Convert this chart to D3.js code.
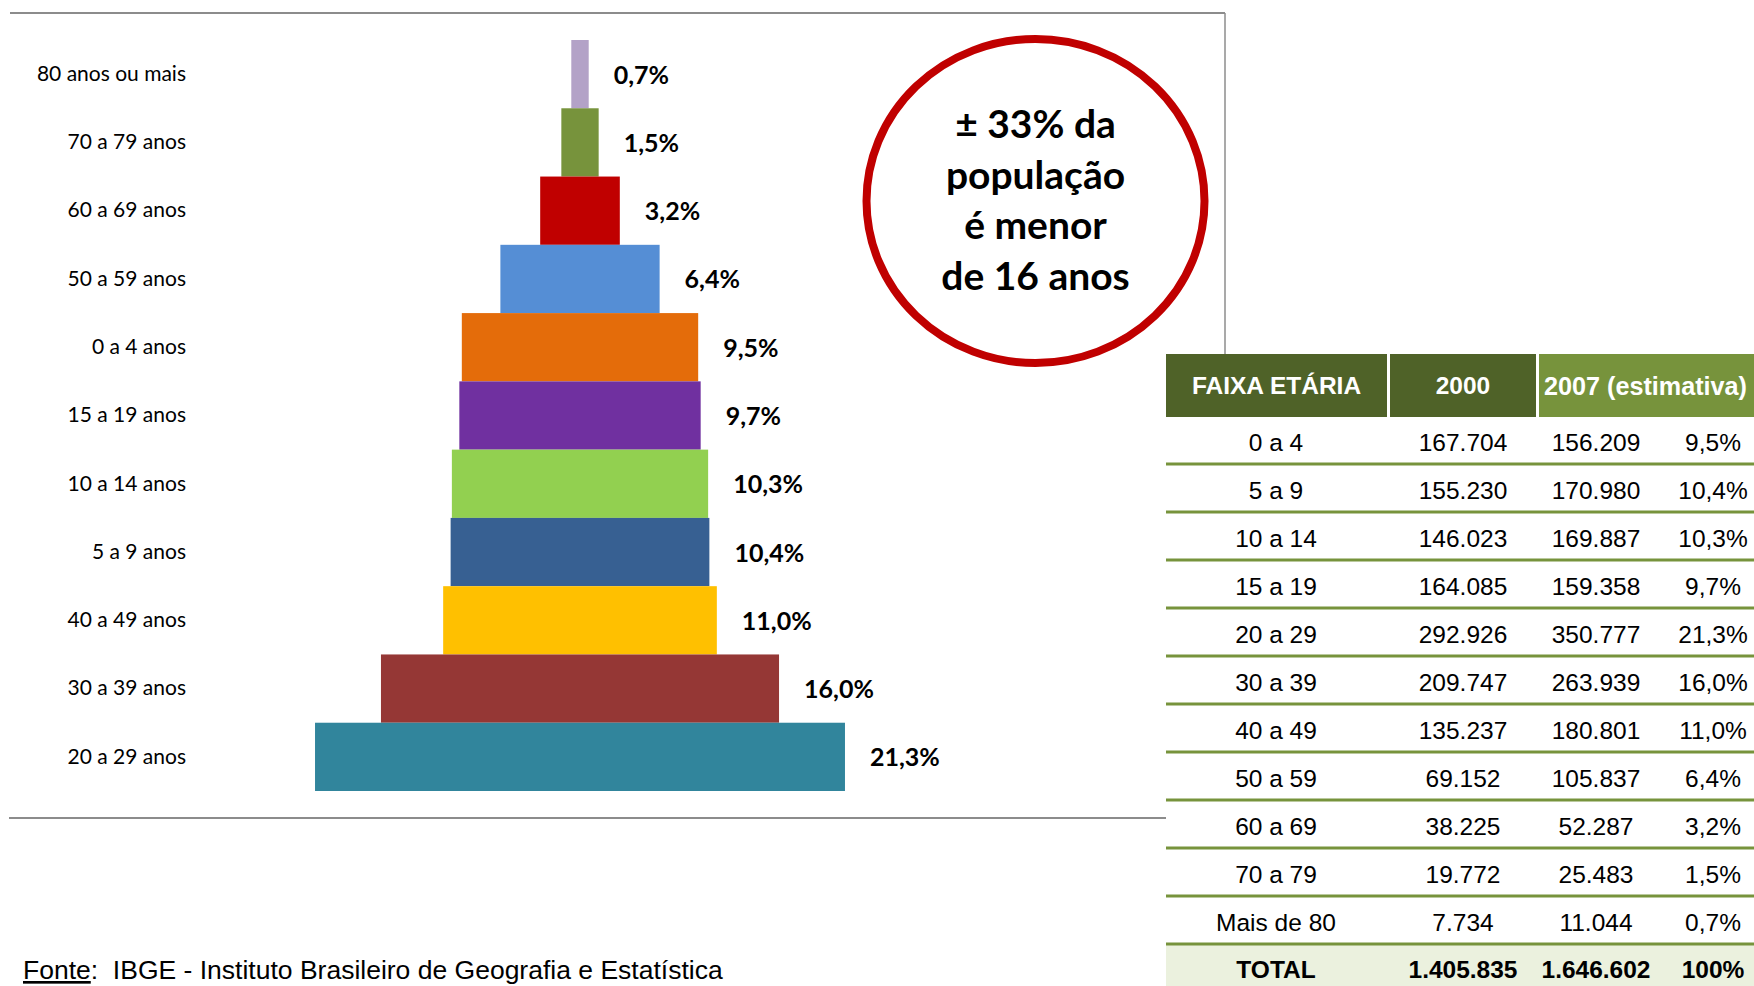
<!DOCTYPE html>
<html>
<head>
<meta charset="utf-8">
<script src="https://cdn.jsdelivr.net/npm/d3@7"></script>
<style>
  html, body { margin: 0; padding: 0; background: #ffffff; }
  svg { display: block; }
</style>
</head>
<body>
<svg id="chart" width="1754" height="986"></svg>
<script>
// ---------- DATA ----------
const pyramidCategories = ["80 anos ou mais", "70 a 79 anos", "60 a 69 anos", "50 a 59 anos", "0 a 4 anos",
  "15 a 19 anos", "10 a 14 anos", "5 a 9 anos", "40 a 49 anos", "30 a 39 anos", "20 a 29 anos"];
const pyramidValues = [0.7, 1.5, 3.2, 6.4, 9.5, 9.7, 10.3, 10.4, 11.0, 16.0, 21.3];
const pyramidColors = ["#b3a2c7", "#77933c", "#c00000", "#558ed5", "#e46c0a",
  "#7030a0", "#92d050", "#376092", "#ffc000", "#953735", "#31859c"];

const calloutLines = ["± 33% da", "população", "é menor", "de 16 anos"];

const tableHeaders = ["FAIXA ETÁRIA", "2000", "2007 (estimativa)"];
const tableAges = ["0 a 4", "5 a 9", "10 a 14", "15 a 19", "20 a 29", "30 a 39", "40 a 49",
  "50 a 59", "60 a 69", "70 a 79", "Mais de 80"];
const pop2000 = ["167.704", "155.230", "146.023", "164.085", "292.926", "209.747", "135.237",
  "69.152", "38.225", "19.772", "7.734"];
const pop2007 = ["156.209", "170.980", "169.887", "159.358", "350.777", "263.939", "180.801",
  "105.837", "52.287", "25.483", "11.044"];
const pct2007 = ["9,5%", "10,4%", "10,3%", "9,7%", "21,3%", "16,0%", "11,0%", "6,4%", "3,2%", "1,5%", "0,7%"];
const totalRow = ["TOTAL", "1.405.835", "1.646.602", "100%"];

const sourceLabel = "Fonte";
const sourceText = ":  IBGE - Instituto Brasileiro de Geografia e Estatística";

// ---------- DRAW ----------
const svg = d3.select("#chart");
const calibri = "Lato, 'Open Sans', sans-serif";
const arial = "'Liberation Sans', Arial, sans-serif";

// frame lines
const frame = svg.append("g").attr("stroke", "#8c8c8c").attr("stroke-width", 2);
frame.append("line").attr("x1", 10).attr("x2", 1225).attr("y1", 13).attr("y2", 13);
frame.append("line").attr("x1", 1225).attr("x2", 1225).attr("y1", 13).attr("y2", 354).attr("stroke-width", 1.5);
frame.append("line").attr("x1", 9).attr("x2", 1166).attr("y1", 818).attr("y2", 818);

// pyramid scales
const y = d3.scaleBand().domain(pyramidCategories).range([40, 791]).padding(0);
const x = d3.scaleLinear().domain([-12.5, 12.5]).range([580 - 311, 580 + 311]);

const rows = pyramidCategories.map((c, i) => ({ c, v: pyramidValues[i], col: pyramidColors[i] }));

svg.append("g").selectAll("rect").data(rows).join("rect")
  .attr("x", d => x(-d.v / 2))
  .attr("width", d => x(d.v / 2) - x(-d.v / 2))
  .attr("y", d => y(d.c))
  .attr("height", y.bandwidth())
  .attr("fill", d => d.col);

// category axis labels
const yAxis = d3.axisLeft(y).tickSize(0).tickPadding(0);
const yg = svg.append("g").attr("transform", "translate(186,0)").call(yAxis);
yg.select(".domain").remove();
yg.selectAll("text")
  .attr("font-family", calibri).attr("font-size", 21).attr("fill", "#000");

// value labels
svg.append("g").selectAll("text").data(rows).join("text")
  .attr("x", d => x(d.v / 2) + 25)
  .attr("y", d => y(d.c) + y.bandwidth() / 2)
  .attr("dy", "0.38em")
  .attr("font-family", calibri).attr("font-weight", 700).attr("font-size", 25)
  .attr("fill", "#000")
  .text(d => d.v.toFixed(1).replace(".", ",") + "%");

// callout ellipse
const cx = 1035.5, cy = 201;
svg.append("ellipse").attr("cx", cx).attr("cy", cy).attr("rx", 169).attr("ry", 162)
  .attr("fill", "#fff").attr("stroke", "#c00000").attr("stroke-width", 8);
svg.append("g").selectAll("text").data(calloutLines).join("text")
  .attr("x", cx).attr("y", (d, i) => 138 + i * 50.5)
  .attr("text-anchor", "middle")
  .attr("font-family", calibri).attr("font-weight", 700).attr("font-size", 39)
  .attr("fill", "#000")
  .text(d => d);

// table
const colX = { c1: [1166, 1387], c2: [1390, 1536], c3: [1539, 1754] };
const headerTop = 354, headerBottom = 417;
const hdr = svg.append("g");
const hdrCells = [[colX.c1, "#4f6228"], [colX.c2, "#4f6228"], [colX.c3, "#77933c"]];
hdrCells.forEach(([r, fill], i) => {
  hdr.append("rect").attr("x", r[0]).attr("y", headerTop).attr("width", r[1] - r[0])
    .attr("height", headerBottom - headerTop).attr("fill", fill);
  hdr.append("text").attr("x", (r[0] + r[1]) / 2 - (i === 2 ? 1 : 0)).attr("y", (headerTop + headerBottom) / 2)
    .attr("dy", "0.36em").attr("text-anchor", "middle")
    .attr("font-family", arial).attr("font-weight", 700).attr("font-size", i === 2 ? 25.2 : 24.5)
    .attr("fill", "#fff").text(tableHeaders[i]);
});

const rowStart = 417, rowH = 48;
const textCenters = [1276, 1463, 1596, 1713];
const rowY = d3.scaleBand().domain(d3.range(tableAges.length + 1))
  .range([rowStart - 1, rowStart - 1 + rowH * (tableAges.length + 1)]).padding(0);

// total row background
svg.append("rect").attr("x", 1166).attr("y", rowY(tableAges.length))
  .attr("width", 1754 - 1166).attr("height", rowH).attr("fill", "#ebf1de");

const tbody = svg.append("g");
tableAges.forEach((age, i) => {
  const vals = [age, pop2000[i], pop2007[i], pct2007[i]];
  const yc = rowY(i) + rowH / 2 + 2;
  vals.forEach((v, j) => {
    tbody.append("text").attr("x", textCenters[j]).attr("y", yc).attr("dy", "0.36em")
      .attr("text-anchor", "middle").attr("font-family", arial).attr("font-size", 24.5)
      .attr("fill", "#000").text(v);
  });
  tbody.append("line").attr("x1", 1166).attr("x2", 1754)
    .attr("y1", rowY(i) + rowH).attr("y2", rowY(i) + rowH)
    .attr("stroke", "#77933c").attr("stroke-width", 3);
});
totalRow.forEach((v, j) => {
  tbody.append("text").attr("x", textCenters[j]).attr("y", rowY(tableAges.length) + rowH / 2 + 1)
    .attr("dy", "0.36em").attr("text-anchor", "middle").attr("font-family", arial)
    .attr("font-weight", 700).attr("font-size", 24.5).attr("fill", "#000").text(v);
});

// source
const src = svg.append("text").attr("x", 23).attr("y", 979)
  .attr("font-family", arial).attr("font-size", 26.5).attr("fill", "#000")
  .style("white-space", "pre");
src.append("tspan").attr("text-decoration", "underline").text(sourceLabel);
src.append("tspan").text(sourceText);
</script>
</body>
</html>
